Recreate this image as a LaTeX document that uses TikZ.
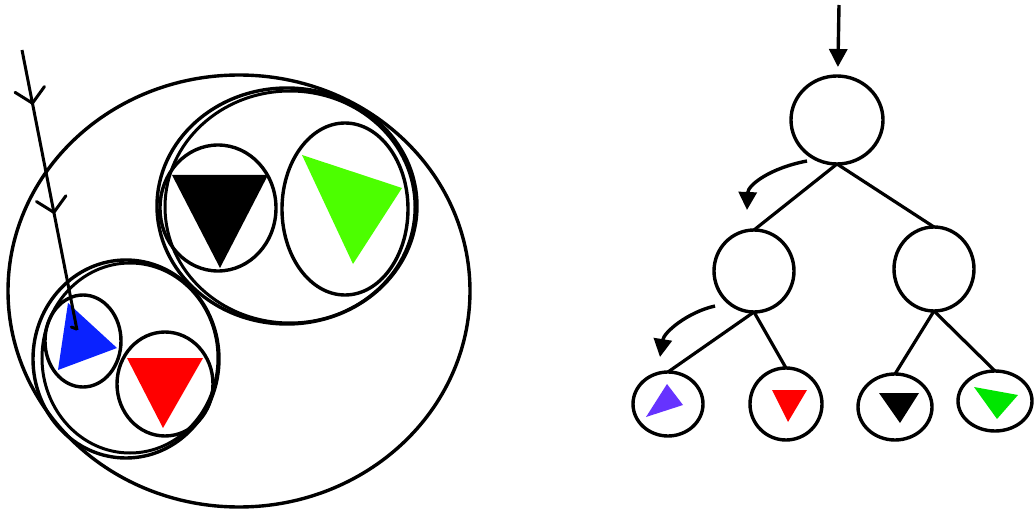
\documentclass[tikz,border=0pt]{standalone}
\usetikzlibrary{arrows.meta,shapes.geometric,decorations.markings}
\definecolor{setblue}{HTML}{0A22FF}
\definecolor{setred}{HTML}{FF0000}
\definecolor{setlime}{HTML}{4CFF00}
\definecolor{leafviolet}{HTML}{6633FF}
\definecolor{leafgreen}{HTML}{00E600}

\begin{document}
\begin{tikzpicture}[
  x=1pt, y=-1pt,
  bubble/.style={ellipse, draw=black, line width=3.4pt, inner sep=0pt, outer sep=0pt},
  treenode/.style={ellipse, draw=black, line width=3.4pt, inner sep=0pt, outer sep=0pt},
  edge/.style={draw, line width=3.2pt},
  line/.style={draw, line width=3.4pt, -{Triangle[length=18pt, width=18pt]}},
  barb/.style={draw, line width=3pt, line cap=round, line join=miter},
  probe/.style={draw, line width=3pt, postaction={decorate},
    decoration={markings,
      mark=at position 0.19 with {\draw[barb] (-14pt,-15pt) -- (0pt,0pt) -- (-14pt,15pt);},
      mark=at position 0.58 with {\draw[barb] (-14pt,-15pt) -- (0pt,0pt) -- (-14pt,15pt);},
      mark=at position 1 with {\draw[barb] (-1pt,0pt) -- (-4pt,-5pt);}}}
]
  \useasboundingbox (0,0) rectangle (1034,516);

  % ==================== NESTED SETS (Left) ====================
  \node[bubble, minimum width=462pt, minimum height=432pt] (world) at (239,291) {};

  % Upper group
  \node[bubble, minimum width=260pt, minimum height=236pt] (upper) at (287,206) {};
  \draw[line width=3pt] (290,207) ellipse (125 and 116);
  \node[bubble, minimum width=116pt, minimum height=126pt] (blackset) at (218,208) {};
  \node[bubble, minimum width=126pt, minimum height=172pt] (limeset) at (345,209) {};
  \fill[black] (172,175) -- (268,175) -- (220,268) -- cycle;
  \fill[setlime] (302,155) -- (402,188) -- (353,264) -- cycle;

  % Lower group
  \node[bubble, minimum width=186pt, minimum height=198pt] (lower) at (126,359) {};
  \draw[line width=3pt] (130,358) ellipse (88 and 95);
  \node[bubble, minimum width=76pt, minimum height=92pt] (blueset) at (83,341) {};
  \node[bubble, minimum width=96pt, minimum height=104pt] (redset) at (165,384) {};
  \fill[setblue] (68,303) -- (117,348) -- (58,370) -- cycle;
  \fill[setred] (127,358) -- (203,358) -- (163,428) -- cycle;

  % Query path
  \coordinate (query) at (22,50);
  \coordinate (hit) at (77,330);
  \draw[probe] (query) -- (hit);

  % ==================== TREE (Right) ====================
  \node[treenode, minimum width=92pt, minimum height=88pt] (root) at (837,120) {};
  \node[treenode, minimum width=80pt, minimum height=82pt] (lchild) at (754,271) {};
  \node[treenode, minimum width=80pt, minimum height=84pt] (rchild) at (934,269) {};

  \node[treenode, minimum width=70pt, minimum height=64pt] (leafa) at (668,404) {};
  \node[treenode, minimum width=72pt, minimum height=72pt] (leafb) at (786,404) {};
  \node[treenode, minimum width=74pt, minimum height=66pt] (leafc) at (895,407) {};
  \node[treenode, minimum width=74pt, minimum height=60pt] (leafd) at (995,401) {};

  \fill[leafviolet] (667,384) -- (683,405) -- (646,417) -- cycle;
  \fill[setred] (772,390) -- (807,390) -- (788,422) -- cycle;
  \fill[black] (879,393) -- (919,393) -- (900,423) -- cycle;
  \fill[leafgreen] (974,387) -- (1018,395) -- (997,419) -- cycle;

  \draw[edge] (root.south) -- (lchild.north);
  \draw[edge] (root.south) -- (rchild.north);
  \draw[edge] (lchild.south) -- (leafa.north);
  \draw[edge] (lchild.south) -- (leafb.north);
  \draw[edge] (rchild.south) -- (leafc.north);
  \draw[edge] (rchild.south) -- (leafd.north);

  % Search arrows
  \coordinate (entry) at (839,5);
  \draw[line, shorten >=9pt] (entry) -- (root);
  \coordinate (stepa) at (807,161);
  \coordinate (stepb) at (715,306);
  \draw[line] (stepa) .. controls (770,168) and (748,185) .. (747,210);
  \draw[line] (stepb) .. controls (688,312) and (664,332) .. (660,357);

\end{tikzpicture}
\end{document}
